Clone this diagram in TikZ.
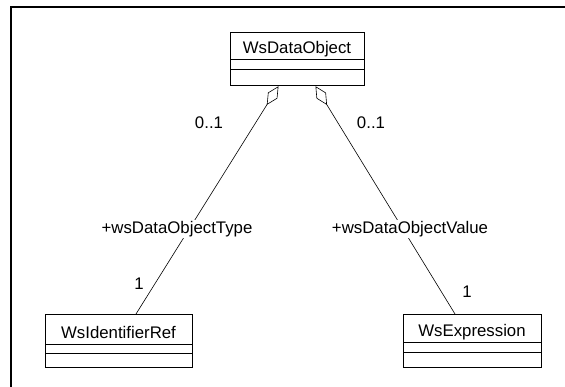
\documentclass[tikz,border=0pt]{standalone}
\usepackage{fontspec}
\setmainfont{Liberation Sans}
\usetikzlibrary{shapes.multipart,arrows.meta}

\newcommand{\umlfont}{\fontsize{16.8}{18}\selectfont}

\tikzset{
    umlclass/.style={rectangle split, rectangle split parts=3, draw, line width=0.8pt,
        inner xsep=0pt, inner ysep=0pt, align=center, font=\umlfont},
    assoc/.style={{Diamond[open, length=22pt, width=11pt]}-, line width=0.6pt},
    rolelabel/.style={fill=white, inner sep=1pt, font=\umlfont}
}

\begin{document}
\begin{tikzpicture}[x=1pt, y=-1pt]
        \useasboundingbox (0,0) rectangle (565,387);
        \draw[line width=1.2pt] (565,7) -- (11,7) -- (11,387);
        \node[umlclass, text width=134pt, anchor=north] (dobj) at (297,32)
            {\rule[-5pt]{0pt}{26pt}WsDataObject \nodepart{two}\rule{0pt}{9pt} \nodepart{three}\rule{0pt}{16pt}};
        \node[umlclass, text width=147pt, anchor=north] (ident) at (118.5,314)
            {\rule[-5pt]{0pt}{29pt}WsIdentifierRef \nodepart{two}\rule{0pt}{8pt} \nodepart{three}\rule{0pt}{14pt}};
        \node[umlclass, text width=138pt, anchor=north] (expr) at (472,314)
            {\rule[-5pt]{0pt}{27pt}WsExpression \nodepart{two}\rule{0pt}{9pt} \nodepart{three}\rule{0pt}{15pt}};
        \draw[assoc] ([xshift=-18.5pt]dobj.south) -- ([xshift=17.5pt]ident.north);
        \draw[assoc] ([xshift=18.5pt]dobj.south) -- ([xshift=-17pt]expr.north);
        \node[rolelabel] (multdobjl) at (209,123) {0..1};
        \node[rolelabel] (multdobjr) at (371,123) {0..1};
        \node[rolelabel] (roletype) at (177,229) {+wsDataObjectType};
        \node[rolelabel] (rolevalue) at (410,229) {+wsDataObjectValue};
        \node[rolelabel] (multident) at (139,284) {1};
        \node[rolelabel] (multexpr) at (467,292) {1};
    \end{tikzpicture}
\end{document}
